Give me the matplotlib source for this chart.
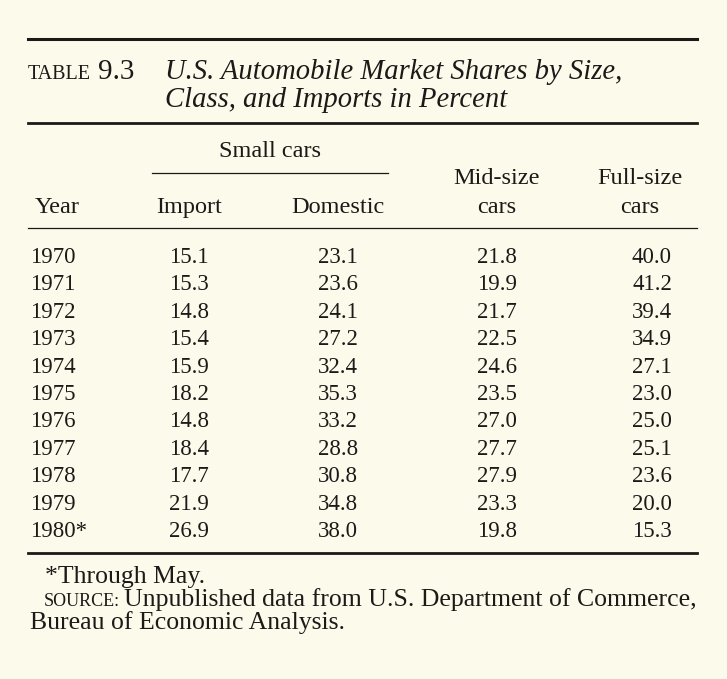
import matplotlib.pyplot as plt

years = ["1970", "1971", "1972", "1973", "1974", "1975", "1976", "1977", "1978", "1979", "1980*"]
small_import = [15.1, 15.3, 14.8, 15.4, 15.9, 18.2, 14.8, 18.4, 17.7, 21.9, 26.9]
small_domestic = [23.1, 23.6, 24.1, 27.2, 32.4, 35.3, 33.2, 28.8, 30.8, 34.8, 38.0]
mid_size = [21.8, 19.9, 21.7, 22.5, 24.6, 23.5, 27.0, 27.7, 27.9, 23.3, 19.8]
full_size = [40.0, 41.2, 39.4, 34.9, 27.1, 23.0, 25.0, 25.1, 23.6, 20.0, 15.3]

plt.rcParams['font.family'] = ['Liberation Serif', 'DejaVu Serif']
bg = '#fcfaeb'
ink = '#1c1a18'

fig = plt.figure(figsize=(7.27, 6.79), dpi=100)
fig.patch.set_facecolor(bg)
ax = fig.add_axes([0, 0, 1, 1])
ax.set_facecolor(bg)
ax.set_xlim(0, 727)
ax.set_ylim(679, 0)
ax.axis('off')

fs = 16.5   # numbers
ft = 17.5   # header text
fn = 18.5   # notes

# rules
ax.plot([28, 697], [39, 39], color=ink, lw=2.2)
ax.plot([28, 697], [123, 123], color=ink, lw=2.0)
ax.plot([152, 388], [173, 173], color=ink, lw=0.9)
ax.plot([28, 697], [228, 228], color=ink, lw=0.9)
ax.plot([28, 697], [553, 553], color=ink, lw=2.0)

# title
ax.text(28, 79, "TABLE", fontsize=14.5, color=ink, va='baseline', ha='left')
ax.text(98, 79, "9.3", fontsize=21, color=ink, va='baseline', ha='left')
ax.text(165, 79, "U.S. Automobile Market Shares by Size,", fontsize=20.6, style='italic',
        color=ink, va='baseline', ha='left')
ax.text(165, 107, "Class, and Imports in Percent", fontsize=20.6, style='italic',
        color=ink, va='baseline', ha='left')

# headers
ax.text(270, 157, "Small cars", fontsize=ft, color=ink, ha='center', va='baseline')
ax.text(497, 184, "Mid-size", fontsize=ft, color=ink, ha='center', va='baseline')
ax.text(640, 184, "Full-size", fontsize=ft, color=ink, ha='center', va='baseline')
ax.text(35, 213, "Year", fontsize=ft, color=ink, ha='left', va='baseline')
ax.text(189, 213, "Import", fontsize=ft, color=ink, ha='center', va='baseline')
ax.text(338, 213, "Domestic", fontsize=ft, color=ink, ha='center', va='baseline')
ax.text(497, 213, "cars", fontsize=ft, color=ink, ha='center', va='baseline')
ax.text(640, 213, "cars", fontsize=ft, color=ink, ha='center', va='baseline')

# body
y0, dy = 263, 27.4
for i, yr in enumerate(years):
    y = y0 + i * dy
    ax.text(30, y, yr, fontsize=fs, color=ink, ha='left', va='baseline')
    ax.text(189, y, f"{small_import[i]:.1f}", fontsize=fs, color=ink, ha='center', va='baseline')
    ax.text(338, y, f"{small_domestic[i]:.1f}", fontsize=fs, color=ink, ha='center', va='baseline')
    ax.text(497, y, f"{mid_size[i]:.1f}", fontsize=fs, color=ink, ha='center', va='baseline')
    ax.text(652, y, f"{full_size[i]:.1f}", fontsize=fs, color=ink, ha='center', va='baseline')

# notes
ax.text(45, 583, "*Through May.", fontsize=fn, color=ink, ha='left', va='baseline')
ax.text(44, 606, "SOURCE:", fontsize=13, color=ink, ha='left', va='baseline')
ax.text(697, 606, "Unpublished data from U.S. Department of Commerce,", fontsize=fn,
        color=ink, ha='right', va='baseline')
ax.text(30, 629, "Bureau of Economic Analysis.", fontsize=fn, color=ink, ha='left', va='baseline')

plt.savefig("out.png", dpi=100, facecolor=bg)
